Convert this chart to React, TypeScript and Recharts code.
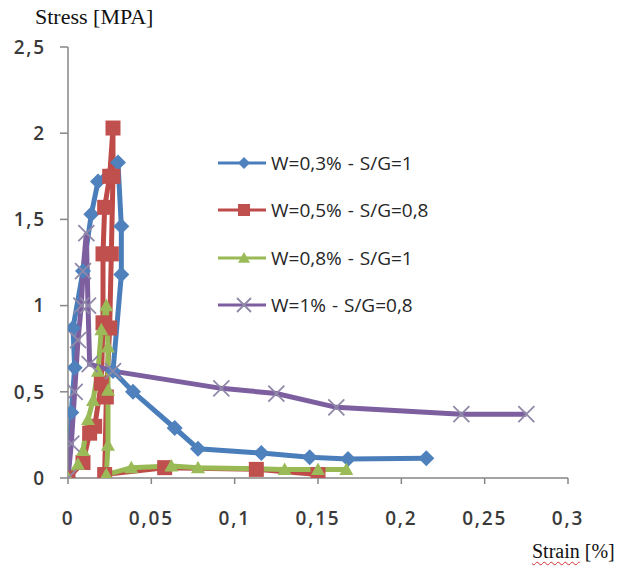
import React from 'react';
import { LineChart, Line, XAxis, YAxis } from 'recharts';

// ---- data (strain in %, stress in MPa) ----
const xTicks = [0, 0.05, 0.1, 0.15, 0.2, 0.25, 0.3];
const yTicks = [0, 0.5, 1, 1.5, 2, 2.5];

const seriesNames = ['W=0,3% - S/G=1', 'W=0,5% - S/G=0,8', 'W=0,8% - S/G=1', 'W=1% - S/G=0,8'];

const blueStrain = [0, 0.002, 0.004, 0.003, 0.009, 0.014, 0.018, 0.03, 0.032, 0.032, 0.027, 0.039, 0.064, 0.078, 0.116, 0.145, 0.168, 0.215];
const blueStress = [0, 0.38, 0.64, 0.87, 1.2, 1.53, 1.72, 1.83, 1.46, 1.18, 0.62, 0.5, 0.29, 0.17, 0.145, 0.12, 0.11, 0.115];

const redStrain = [0, 0.009, 0.013, 0.016, 0.02, 0.021, 0.021, 0.022, 0.025, 0.027, 0.027, 0.026, 0.025, 0.023, 0.022, 0.058, 0.113, 0.15];
const redStress = [0, 0.09, 0.26, 0.3, 0.55, 0.9, 1.3, 1.57, 1.75, 2.03, 1.75, 1.3, 0.87, 0.47, 0.02, 0.06, 0.05, 0.02];

const greenStrain = [0, 0.006, 0.009, 0.012, 0.015, 0.018, 0.02, 0.023, 0.024, 0.024, 0.024, 0.023, 0.038, 0.062, 0.078, 0.13, 0.15, 0.167];
const greenStress = [0, 0.08, 0.16, 0.34, 0.45, 0.62, 0.86, 1.0, 0.76, 0.51, 0.19, 0.02, 0.06, 0.07, 0.06, 0.05, 0.05, 0.05];

const purpleStrain = [0, 0.002, 0.004, 0.006, 0.008, 0.009, 0.011, 0.012, 0.013, 0.027, 0.092, 0.125, 0.161, 0.236, 0.275];
const purpleStress = [0, 0.2, 0.5, 0.8, 1.0, 1.2, 1.42, 1.0, 0.66, 0.62, 0.52, 0.49, 0.41, 0.37, 0.37];

const toPoints = (xs: number[], ys: number[]) => xs.map((x, i) => ({ x, y: ys[i] }));
const blueData = toPoints(blueStrain, blueStress);
const redData = toPoints(redStrain, redStress);
const greenData = toPoints(greenStrain, greenStress);
const purpleData = toPoints(purpleStrain, purpleStress);

const fmt = (v: number) => String(Math.round(v * 100) / 100).replace('.', ',');

const C = {
  blue: '#4A7EBB', blueM: '#4F81BD',
  red: '#BE4B48', redM: '#C0504D',
  green: '#98B954', greenM: '#9BBB59',
  purple: '#7D5FA0', purpleM: '#9088A8',
};

const Diamond = ({ cx, cy, s = 8, fill }: any) => (
  <path d={`M${cx},${cy - s}L${cx + s},${cy}L${cx},${cy + s}L${cx - s},${cy}Z`} fill={fill} />
);
const Square = ({ cx, cy, s = 7.5, fill }: any) => (
  <rect x={cx - s} y={cy - s} width={2 * s} height={2 * s} fill={fill} />
);
const Tri = ({ cx, cy, s = 7, fill }: any) => (
  <path d={`M${cx},${cy - s}L${cx + s},${cy + s * 0.8}L${cx - s},${cy + s * 0.8}Z`} fill={fill} />
);
const Cross = ({ cx, cy, s = 8, stroke }: any) => (
  <path d={`M${cx - s},${cy - s}L${cx + s},${cy + s}M${cx - s},${cy + s}L${cx + s},${cy - s}`} stroke={stroke} strokeWidth={1.8} fill="none" />
);

const mk = (kind: string) => (p: any) => {
  const { cx, cy, index } = p;
  if (cx == null || cy == null) return <g key={index} />;
  if (kind === 'd') return <Diamond key={index} cx={cx} cy={cy} fill={C.blueM} />;
  if (kind === 's') return <Square key={index} cx={cx} cy={cy} fill={C.redM} />;
  if (kind === 't') return <Tri key={index} cx={cx} cy={cy} fill={C.greenM} />;
  return <Cross key={index} cx={cx} cy={cy} stroke={C.purpleM} />;
};

const legendItems = [
  { name: seriesNames[0], color: C.blue, kind: 'd' },
  { name: seriesNames[1], color: C.red, kind: 's' },
  { name: seriesNames[2], color: C.green, kind: 't' },
  { name: seriesNames[3], color: C.purple, kind: 'x' },
];

const tickStyle = { fill: '#3a3a3a', fontSize: 19, fontFamily: 'Open Sans', fontWeight: 600, letterSpacing: 1.8 };

export default function App() {
  return (
    <div style={{ position: 'absolute', left: 0, top: 0, width: 623, height: 573, background: '#fff' }}>
      <LineChart width={623} height={573} margin={{ top: 47, right: 55, bottom: 0, left: 0 }}>
        <XAxis
          type="number"
          dataKey="x"
          domain={[0, 0.3]}
          ticks={xTicks}
          tickFormatter={fmt}
          interval={0}
          height={95}
          stroke="#868686"
          strokeWidth={1.5}
          tickSize={6}
          tickMargin={28}
          tick={tickStyle}
          allowDataOverflow
        />
        <YAxis
          type="number"
          dataKey="y"
          domain={[0, 2.5]}
          ticks={yTicks}
          tickFormatter={fmt}
          interval={0}
          width={68}
          stroke="#868686"
          strokeWidth={1.5}
          tickSize={8}
          tickMargin={14}
          tick={tickStyle}
          allowDataOverflow
        />
        <Line data={blueData} dataKey="y" type="linear" stroke={C.blue} strokeWidth={5} dot={mk('d')} activeDot={false} isAnimationActive={false} />
        <Line data={redData} dataKey="y" type="linear" stroke={C.red} strokeWidth={5} dot={mk('s')} activeDot={false} isAnimationActive={false} />
        <Line data={greenData} dataKey="y" type="linear" stroke={C.green} strokeWidth={5} dot={mk('t')} activeDot={false} isAnimationActive={false} />
        <Line data={purpleData} dataKey="y" type="linear" stroke={C.purple} strokeWidth={5} dot={mk('x')} activeDot={false} isAnimationActive={false} />
      </LineChart>

      <div style={{ position: 'absolute', left: 35, top: 4, fontFamily: 'Liberation Serif', fontSize: 22, color: '#111', whiteSpace: 'nowrap' }}>
        Stress [MPA]
      </div>
      <div style={{ position: 'absolute', left: 532, top: 540, fontFamily: 'Liberation Serif', fontSize: 20, color: '#111', whiteSpace: 'nowrap' }}>
        <span style={{ textDecoration: 'underline wavy #d03030', textDecorationThickness: 1, textUnderlineOffset: 3 }}>Strain</span> [%]
      </div>

      {legendItems.map((it, i) => (
        <div key={i} style={{ position: 'absolute', left: 218, top: 163 + i * 47.3 - 14, height: 28, display: 'flex', alignItems: 'center', whiteSpace: 'nowrap' }}>
          <svg width={50} height={28} style={{ display: 'block' }}>
            <line x1={0} y1={14} x2={48} y2={14} stroke={it.color} strokeWidth={3} />
            {it.kind === 'd' && <Diamond cx={26} cy={14} s={6} fill={C.blueM} />}
            {it.kind === 's' && <Square cx={26} cy={14} s={6} fill={C.redM} />}
            {it.kind === 't' && <Tri cx={26} cy={14} s={6} fill={C.greenM} />}
            {it.kind === 'x' && <Cross cx={26} cy={14} s={7} stroke={C.purpleM} />}
          </svg>
          <span style={{ marginLeft: 3, fontFamily: 'Open Sans', fontSize: 19, color: '#262626', wordSpacing: 1 }}>{it.name}</span>
        </div>
      ))}
    </div>
  );
}
